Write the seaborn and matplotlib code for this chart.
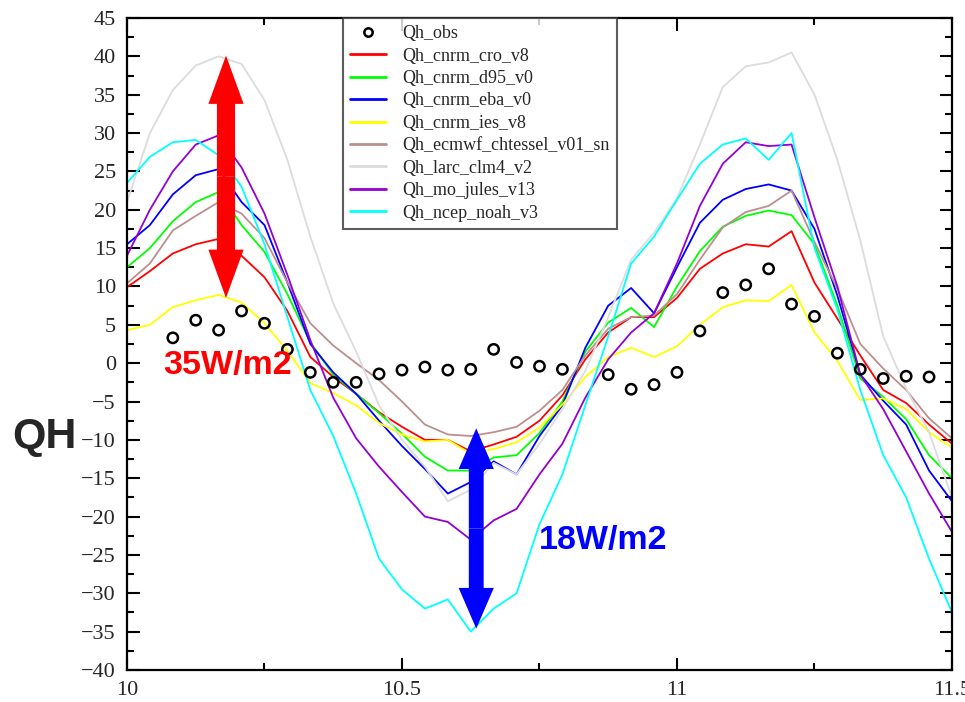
"""Sensible heat flux QH: observations vs land surface models (two days)."""
import numpy as np
import pandas as pd
import matplotlib
matplotlib.use('Agg')
import matplotlib.pyplot as plt
from matplotlib.lines import Line2D
from matplotlib.ticker import MultipleLocator
import seaborn as sns

# hourly time axis, day 10.0 -> 11.5
hours = np.arange(37)
day = 10 + hours / 24

obs = [np.nan, np.nan, 3.3, 5.6, 4.3, 6.8, 5.2, 1.8, -1.2, -2.5, -2.5, -1.4, -0.9,
       -0.5, -0.9, -0.8, 1.8, 0.1, -0.4, -0.8, np.nan, -1.5, -3.4, -2.8, -1.2, 4.2,
       9.2, 10.2, 12.3, 7.7, 6.1, 1.3, -0.8, -2.0, -1.7, -1.8, np.nan]

cnrm_cro = [9.9, 12, 14.3, 15.5, 16.2, 14, 11.2, 6.8, 0.8, -1.8, -4, -6.4, -8.3,
            -10, -10, -11.5, -10.6, -9.6, -7.5, -4.2, 0.5, 4, 6, 6, 8.5, 12.3,
            14.3, 15.5, 15.2, 17.2, 10.5, 5.8, 1, -3.5, -5.2, -8, -10.5]
cnrm_d95 = [12.5, 15, 18.5, 21, 22.3, 18, 14.5, 9, 2.7, -1.5, -4, -6.5, -9.2,
            -12.2, -14, -14, -12.3, -12, -9.1, -5, 1.5, 5.3, 7.2, 4.7, 10, 14.6,
            17.8, 19.2, 19.9, 19.3, 15.5, 7.5, -2, -4.4, -7.3, -12, -15]
cnrm_eba = [15.5, 18, 22, 24.5, 25.3, 21, 18, 10.5, 2.5, -1.2, -4, -7.5, -10.8,
            -13.8, -17, -15.5, -12.8, -14.5, -9.5, -5.5, 2, 7.5, 9.8, 6.5, 12.5, 18.3,
            21.3, 22.7, 23.3, 22.5, 17.5, 8.8, -1.5, -4.9, -8, -14, -18]
cnrm_ies = [4.3, 5, 7.3, 8.2, 8.9, 7.9, 5.2, 1.6, -2.6, -3.9, -5.5, -7.8, -9.3,
            -10.2, -10, -11.8, -11.2, -10.3, -8.4, -5.4, -1.8, 0.8, 2, 0.8, 2.2, 5,
            7.3, 8.2, 8.1, 10.2, 4, 0.3, -4.8, -4.6, -6, -9, -11]
ecmwf = [10.4, 13, 17.3, 19.2, 21, 19.5, 16.3, 10.5, 5.2, 2.3, 0, -2.2, -5,
         -8, -9.3, -9.5, -9, -8.3, -6.2, -3.5, 1, 4.5, 6, 6.2, 9, 13.5,
         17.7, 19.7, 20.5, 22.5, 15.8, 9.7, 2.5, -0.7, -3.5, -7.2, -9.8]
larc = [21, 30, 35.6, 38.8, 40, 39, 34.3, 26.5, 16.5, 7.8, 1.5, -5.5, -10,
        -13.5, -18, -16.5, -13, -14.5, -10.5, -6, -1, 6, 13.5, 17, 21.5, 28.5,
        36, 38.7, 39.2, 40.5, 35, 26.5, 16, 3.5, -3.3, -9, -17.5]
mo_jules = [14, 20, 25, 28.5, 29.7, 25.5, 19.5, 11.5, 3, -4.5, -9.8, -13.5, -16.8,
            -20, -20.7, -23, -20.5, -19, -14.5, -10.5, -4.5, 0.5, 4, 6.5, 13, 20.5,
            26, 28.8, 28.3, 28.5, 19, 10, -1.5, -6, -11.5, -17, -22]
ncep = [23.5, 26.9, 28.8, 29.1, 27.1, 23, 15.5, 6, -3.5, -9.5, -17, -25.5, -29.5,
        -32, -30.8, -35, -32, -30, -21, -14.5, -5.5, 3.5, 13, 16.5, 21.3, 26,
        28.5, 29.3, 26.5, 30, 15, 7, -3.5, -12, -17.5, -25.5, -32.5]

runs = ['Qh_cnrm_cro_v8', 'Qh_cnrm_d95_v0', 'Qh_cnrm_eba_v0', 'Qh_cnrm_ies_v8',
        'Qh_ecmwf_chtessel_v01_sn', 'Qh_larc_clm4_v2', 'Qh_mo_jules_v13', 'Qh_ncep_noah_v3']
series = [cnrm_cro, cnrm_d95, cnrm_eba, cnrm_ies, ecmwf, larc, mo_jules, ncep]
colors = ['#ff0000', '#00ff00', '#0000ff', '#ffff00', '#bc8f8f', '#dcdcdc', '#9400d3', '#00ffff']
palette = dict(zip(runs, colors))

df = pd.concat([pd.DataFrame({'day': day, 'qh': vals, 'run': name})
                for name, vals in zip(runs, series)], ignore_index=True)
obs_df = pd.DataFrame({'day': day, 'qh': obs})

sns.set_theme(style='ticks')
plt.rcParams['font.family'] = ['Liberation Serif', 'DejaVu Serif']

fig = plt.figure(figsize=(9.65, 7.02), dpi=100)
ax = fig.add_axes([0.1316, 0.0456, 0.8549, 0.9288])

sns.lineplot(data=df, x='day', y='qh', hue='run', palette=palette, hue_order=runs,
             estimator=None, sort=False, linewidth=1.3, legend=False, ax=ax)
sns.scatterplot(data=obs_df, x='day', y='qh', marker='o', s=55, facecolor='none',
                edgecolor='black', linewidth=1.8, zorder=5, legend=False, ax=ax)

# spread arrows
def double_arrow(x, y0, y1, color, shaft, head_w, head_l):
    mid = (y0 + y1) / 2
    for end in (y0, y1):
        ax.arrow(x, mid, 0, end - mid, width=shaft, head_width=head_w, head_length=head_l,
                 length_includes_head=True, color=color, lw=0, zorder=6)

double_arrow(10.18, 8.5, 40.1, '#ff0000', 0.033, 0.064, 6.3)
double_arrow(10.635, -34.6, -8.5, '#0000ff', 0.027, 0.064, 5.3)

ax.text(10.182, -0.3, '35W/m2', color='#ff0000', fontsize=24.5, fontweight='bold',
        family='Liberation Sans', ha='center', va='center', zorder=7)
ax.text(10.865, -23.1, '18W/m2', color='#0000ff', fontsize=24.5, fontweight='bold',
        family='Liberation Sans', ha='center', va='center', zorder=7)
fig.text(44 / 965, 1 - 437 / 702, 'QH', fontsize=31, fontweight='bold',
         family='Liberation Sans', ha='center', va='center')

ax.set_xlim(10, 11.5)
ax.set_ylim(-40, 45)
ax.xaxis.set_major_locator(MultipleLocator(0.5))
ax.xaxis.set_minor_locator(MultipleLocator(0.25))
ax.yaxis.set_major_locator(MultipleLocator(5))
ax.yaxis.set_minor_locator(MultipleLocator(2.5))
ax.set_xticks([10, 10.5, 11, 11.5], ['10', '10.5', '11', '11.5'])
ax.tick_params(which='both', direction='in', top=True, right=True, width=1.5, color='black')
ax.tick_params(which='major', length=9, labelsize=16, pad=8)
ax.tick_params(which='minor', length=5)
ax.set_xlabel('')
ax.set_ylabel('')
for sp in ax.spines.values():
    sp.set_linewidth(1.6)
    sp.set_color('black')

handles = [Line2D([], [], marker='o', ls='none', mfc='none', mec='black', mew=1.8, ms=6)]
handles += [Line2D([], [], color=c, lw=2) for c in colors]
leg = ax.legend(handles, ['Qh_obs'] + runs, loc='upper left', bbox_to_anchor=(0.262, 1.0),
                borderaxespad=0, fontsize=13, frameon=True, fancybox=False,
                labelspacing=0.3, handlelength=2.0, handletextpad=0.9, borderpad=0.4)
leg.get_frame().set_edgecolor('#333333')
leg.get_frame().set_linewidth(1.5)

fig.savefig('out.png', dpi=100)
